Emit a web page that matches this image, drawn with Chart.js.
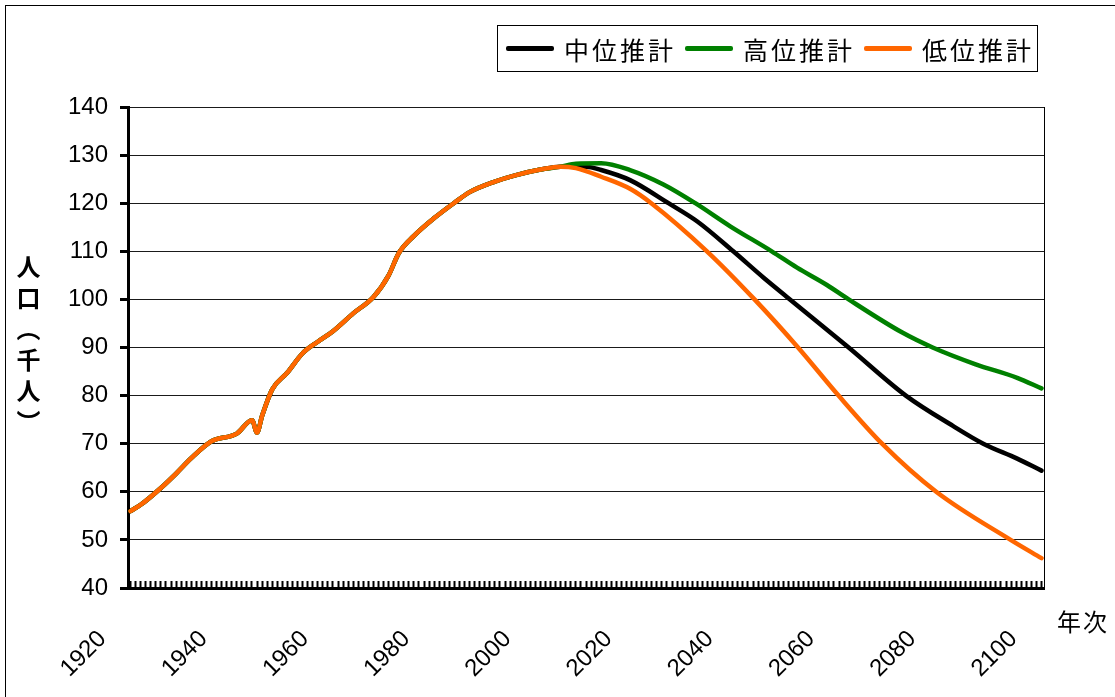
<!DOCTYPE html>
<html lang="ja">
<head>
  <meta charset="UTF-8" />
  <title>人口推計</title>
  <script src="https://cdn.jsdelivr.net/npm/chart.js"></script>
  <style>
    body {
      margin: 0;
      background: #fff;
      font-family: "Noto Sans CJK JP", sans-serif;
    }
    #wrap {
      position: relative;
      width: 1115px;
      height: 697px;
      overflow: hidden;
    }
    #frame {
      position: absolute;
      left: 5px;
      top: 5px;
      width: 1200px;
      height: 800px;
      border-left: 1px solid #000;
      border-top: 1px solid #000;
    }
    #legend {
      position: absolute;
      left: 497px;
      top: 25px;
      width: 541px;
      height: 47px;
      border: 1px solid #000;
      display: flex;
      align-items: center;
      padding-left: 8px;
      box-sizing: border-box;
      white-space: nowrap;
      overflow: hidden;
    }
    #legend .item {
      display: flex;
      align-items: center;
      flex-shrink: 0;
      margin-right: 9px;
    }
    #legend .swatch {
      width: 48px;
      height: 5px;
      border-radius: 2px;
      margin-right: 10px;
      flex-shrink: 0;
    }
    #legend .label {
      font-size: 25px;
      letter-spacing: 3px;
      color: #000;
      white-space: nowrap;
    }
    #ytitle {
      position: absolute;
      left: 11px;
      top: 255px;
      writing-mode: vertical-rl;
      font-size: 24px;
      font-weight: bold;
      letter-spacing: 7px;
      color: #000;
    }
    #xtitle {
      position: absolute;
      left: 1057px;
      top: 603px;
      font-size: 24px;
      letter-spacing: 2px;
      color: #000;
    }
  </style>
</head>
<body>
  <div id="wrap">
    <canvas id="popChart"></canvas>
    <div id="frame"></div>
    <div id="legend"></div>
    <div id="ytitle">人口（千人）</div>
    <div id="xtitle">年次</div>
  </div>

  <script>
    // actual population, shared by all three series
    const histYears = [1920, 1922, 1926, 1929, 1932, 1936, 1941, 1944, 1945, 1946, 1948, 1951, 1954, 1957, 1960, 1964, 1968, 1971, 1973, 1976, 1980, 1984, 1987, 1992, 1996, 2001, 2005];
    const histPop   = [56.0, 57.3, 60.8, 63.8, 67.0, 70.5, 72.1, 74.9, 72.3, 75.8, 81.3, 84.8, 88.8, 91.2, 93.4, 97.1, 100.5, 105.0, 109.6, 113.2, 116.9, 120.1, 122.3, 124.5, 125.8, 127.0, 127.6];

    // projections (years read where each curve meets a gridline)
    const midYears  = [2010, 2013, 2018.7, 2026.3, 2032, 2039.1, 2045.1, 2050.3, 2061.9, 2073.2, 2082.5, 2088.5, 2095.2, 2100];
    const midPop    = [127.6, 126.9, 124.8, 120.0, 116.2, 110.0, 104.5, 100.0, 90.0, 80.0, 73.7, 70.0, 66.9, 64.4];
    const highYears = [2008, 2013, 2018.7, 2025.3, 2031.6, 2038.5, 2046.7, 2051.7, 2057.6, 2061.9, 2072.5, 2078.5, 2087, 2095.2, 2100];
    const highPop   = [128.2, 128.3, 126.9, 123.9, 120.0, 115.2, 110.0, 106.6, 103.0, 100.0, 93.1, 90.0, 86.5, 83.7, 81.5];
    const lowYears  = [2008, 2013, 2018.7, 2022.9, 2033.9, 2043.3, 2051.9, 2059.9, 2068.5, 2079.2, 2093.9, 2100];
    const lowPop    = [127.3, 125.5, 123.0, 120.0, 110.0, 100.0, 90.0, 80.0, 70.0, 60.0, 50.0, 46.2];

    const seriesNames = ['中位推計', '高位推計', '低位推計'];
    const seriesColors = ['#000000', '#008000', '#ff6600'];

    const firstYear = 1920;
    const lastYear = 2100;
    const yTicks = [40, 50, 60, 70, 80, 90, 100, 110, 120, 130, 140];

    function toPoints(xs, ys) {
      return xs.map((x, i) => ({ x: x, y: ys[i] }));
    }
    const hist = toPoints(histYears, histPop);

    // right edge of the plot area
    const plotFrame = {
      id: 'plotFrame',
      afterDraw(chart) {
        const { ctx, chartArea } = chart;
        ctx.save();
        ctx.strokeStyle = '#000';
        ctx.lineWidth = 1;
        ctx.beginPath();
        ctx.moveTo(chartArea.right + 0.5, chartArea.top);
        ctx.lineTo(chartArea.right + 0.5, chartArea.bottom);
        ctx.stroke();
        ctx.restore();
      }
    };

    const chart = new Chart(document.getElementById('popChart'), {
      type: 'line',
      data: {
        datasets: [
          { label: seriesNames[0], data: hist.concat(toPoints(midYears, midPop)), borderColor: seriesColors[0], order: 3 },
          { label: seriesNames[1], data: hist.concat(toPoints(highYears, highPop)), borderColor: seriesColors[1], order: 2 },
          { label: seriesNames[2], data: hist.concat(toPoints(lowYears, lowPop)), borderColor: seriesColors[2], order: 1 }
        ]
      },
      options: {
        responsive: true,
        maintainAspectRatio: false,
        animation: false,
        layout: { padding: { top: 107, right: 71, bottom: 0, left: 0 } },
        elements: {
          point: { radius: 0 },
          line: { borderWidth: 4.5, cubicInterpolationMode: 'monotone', borderCapStyle: 'round', borderJoinStyle: 'round' }
        },
        plugins: {
          legend: { display: false },
          tooltip: { enabled: false }
        },
        scales: {
          x: {
            type: 'linear',
            min: firstYear - 0.5,
            max: lastYear + 0.5,
            afterBuildTicks: (scale) => {
              const t = [];
              for (let y = firstYear; y <= lastYear; y++) t.push({ value: y });
              scale.ticks = t;
            },
            afterFit: (scale) => { scale.height = 109; },
            border: { display: true, width: 3, color: '#000' },
            grid: { drawOnChartArea: false, drawTicks: true, tickLength: -7, tickWidth: 2, tickColor: '#000' },
            ticks: {
              autoSkip: false,
              minRotation: 45,
              maxRotation: 45,
              padding: 44,
              labelOffset: -28,
              color: '#000',
              font: { family: 'Liberation Sans', size: 24 },
              callback: (v) => (v % 20 === 0 ? String(v) : '')
            }
          },
          y: {
            min: 40,
            max: 140,
            afterBuildTicks: (scale) => { scale.ticks = yTicks.map(v => ({ value: v })); },
            afterFit: (scale) => { scale.width = 128; },
            border: { display: true, width: 3, color: '#000' },
            grid: { color: '#1a1a1a', lineWidth: 1, tickLength: 8, tickWidth: 3, tickColor: '#000' },
            ticks: {
              padding: 12,
              color: '#000',
              font: { family: 'Liberation Sans', size: 24 }
            }
          }
        }
      },
      plugins: [plotFrame]
    });

    // legend box drawn from the chart's datasets
    const legendEl = document.getElementById('legend');
    chart.data.datasets.forEach(ds => {
      const item = document.createElement('div');
      item.className = 'item';
      const sw = document.createElement('span');
      sw.className = 'swatch';
      sw.style.background = ds.borderColor;
      const lb = document.createElement('span');
      lb.className = 'label';
      lb.textContent = ds.label;
      item.appendChild(sw);
      item.appendChild(lb);
      legendEl.appendChild(item);
    });
  </script>
</body>
</html>
